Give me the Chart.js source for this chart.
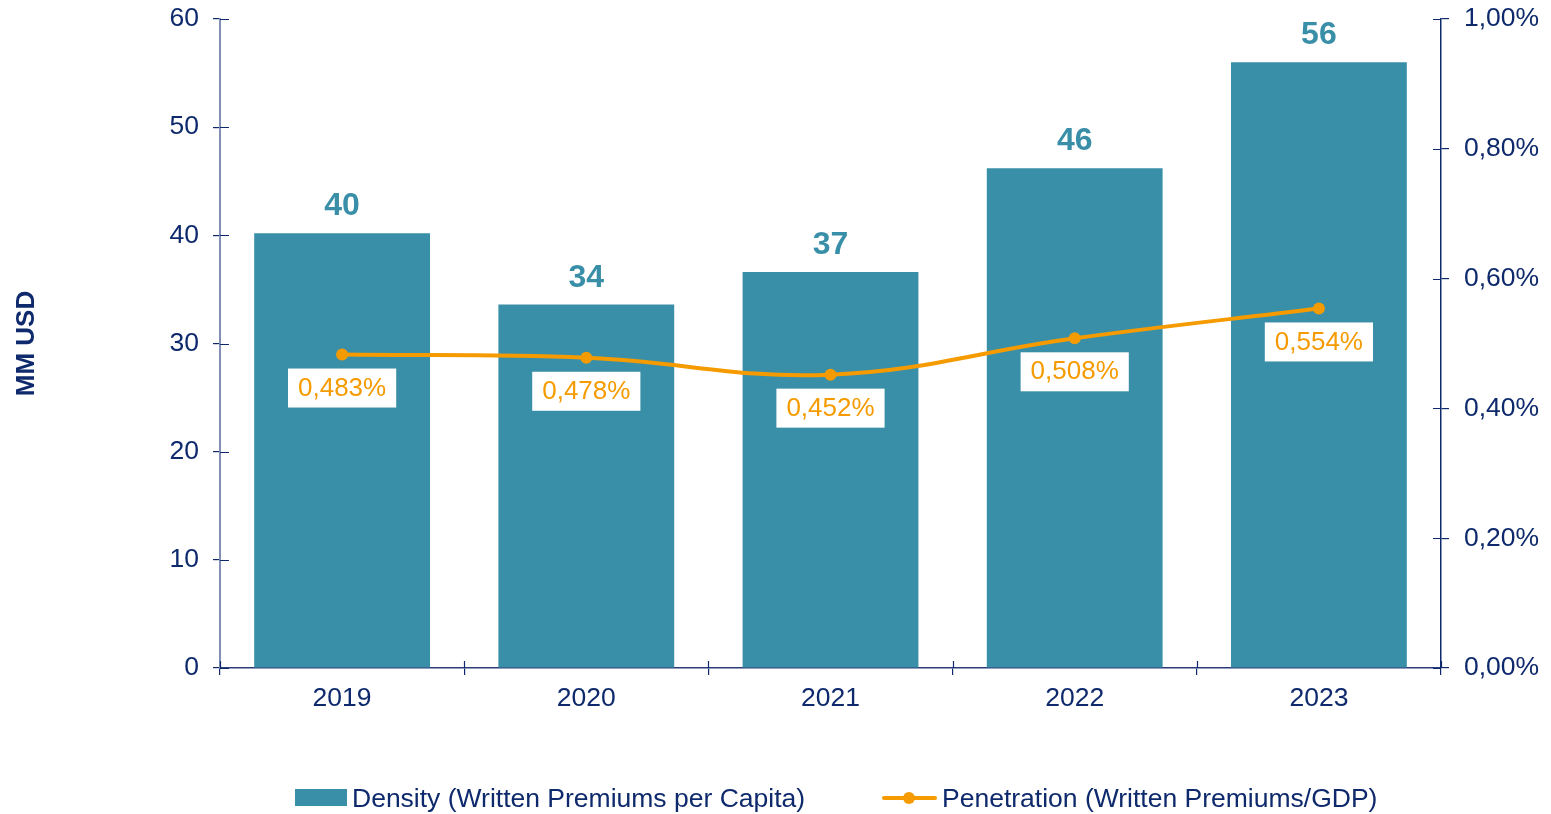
<!DOCTYPE html>
<html>
<head>
<meta charset="utf-8">
<script src="https://cdn.jsdelivr.net/npm/chart.js@4/dist/chart.umd.min.js"></script>
<style>
  body { margin: 0; background: #fff; }
  #wrap { position: relative; width: 1551px; height: 814px; font-family: "Liberation Sans", Arial, sans-serif; }
  #legend { position: absolute; left: 0; top: 780px; width: 1551px; height: 36px; color: #0e2a6c; font-size: 26.5px; }
  .item { position: absolute; top: 0; height: 36px; line-height: 36px; white-space: nowrap; }
  .box { position: absolute; }
</style>
</head>
<body>
<div id="wrap">
  <canvas id="grafico" width="1551" height="814"></canvas>
  <div id="legend">
    <div class="box" style="left:295px;top:9px;width:52px;height:17px;background:#3a8fa8"></div>
    <div class="item" style="left:352px">Density (Written Premiums per Capita)</div>
    <div class="box" style="left:882px;top:16px;width:55px;height:4px;background:#f59b00;border-radius:2px"></div>
    <div class="box" style="left:903px;top:12px;width:12px;height:12px;background:#f59b00;border-radius:50%"></div>
    <div class="item" style="left:942px">Penetration (Written Premiums/GDP)</div>
  </div>
</div>
<script>
const anos = ["2019", "2020", "2021", "2022", "2023"];
const densidade = [40.2, 33.6, 36.6, 46.2, 56.0];
const penetracao = [0.483, 0.478, 0.452, 0.508, 0.554];

const AZUL = "#3a8fa8";
const LARANJA = "#f59b00";
const MARINHO = "#0e2a6c";
const FONTE = "'Liberation Sans', Arial, sans-serif";

// ticks que cruzam o eixo (parte de dentro da área do gráfico)
const ticksInternos = {
  id: "ticksInternos",
  afterDraw(chart) {
    const ctx = chart.ctx;
    const { x, y, y1 } = chart.scales;
    ctx.save();
    ctx.strokeStyle = MARINHO;
    ctx.lineWidth = 1.2;
    ctx.beginPath();
    y.ticks.forEach((t, i) => {
      const py = Math.round(y.getPixelForTick(i)) + 0.5;
      ctx.moveTo(y.right, py); ctx.lineTo(y.right + 9, py);
    });
    y1.ticks.forEach((t, i) => {
      const py = Math.round(y1.getPixelForTick(i)) + 0.5;
      ctx.moveTo(y1.left - 8, py); ctx.lineTo(y1.left, py);
    });
    const n = x.ticks.length;
    for (let i = 0; i <= n; i++) {
      const px = Math.round(x.left + i * (x.width / n)) + 0.5;
      ctx.moveTo(px, x.top - 7); ctx.lineTo(px, x.top);
    }
    ctx.stroke();
    ctx.restore();
  }
};

// rótulos de valor das barras e da linha
const rotulos = {
  id: "rotulos",
  afterDatasetsDraw(chart) {
    const ctx = chart.ctx;
    ctx.save();
    ctx.textAlign = "center";

    ctx.font = "bold 32px " + FONTE;
    ctx.fillStyle = AZUL;
    ctx.textBaseline = "alphabetic";
    chart.getDatasetMeta(0).data.forEach((bar, i) => {
      ctx.fillText(Math.round(densidade[i]).toString(), bar.x, bar.y - 18);
    });

    ctx.font = "26px " + FONTE;
    ctx.textBaseline = "middle";
    chart.getDatasetMeta(1).data.forEach((pt, i) => {
      const txt = penetracao[i].toFixed(3).replace(".", ",") + "%";
      const w = ctx.measureText(txt).width + 20;
      const cy = pt.y + 33;
      ctx.fillStyle = "#fff";
      ctx.fillRect(pt.x - w / 2, cy - 19, w, 39);
      ctx.fillStyle = LARANJA;
      ctx.fillText(txt, pt.x, cy + 1);
    });
    ctx.restore();
  }
};

function semPadding(s) {
  s.paddingTop = 0;
  s.paddingBottom = 0;
}

const ctx = document.getElementById("grafico").getContext("2d");
new Chart(ctx, {
  type: "bar",
  data: {
    labels: anos,
    datasets: [
      {
        type: "bar",
        label: "Density (Written Premiums per Capita)",
        data: densidade,
        backgroundColor: AZUL,
        barPercentage: 0.72,
        categoryPercentage: 1,
        yAxisID: "y",
        order: 1
      },
      {
        type: "line",
        label: "Penetration (Written Premiums/GDP)",
        data: penetracao,
        borderColor: LARANJA,
        backgroundColor: LARANJA,
        borderWidth: 4,
        pointRadius: 6,
        pointBackgroundColor: LARANJA,
        pointBorderWidth: 0,
        tension: 0.4,
        yAxisID: "y1",
        order: 0
      }
    ]
  },
  options: {
    responsive: false,
    devicePixelRatio: 1,
    animation: false,
    layout: { padding: { top: 19, left: 0, right: 0, bottom: 0 } },
    plugins: {
      legend: { display: false },
      tooltip: { enabled: false }
    },
    scales: {
      x: {
        grid: { drawOnChartArea: false, tickLength: 7, color: MARINHO, lineWidth: 1.2 },
        border: { color: "#2a3c7a", width: 1.5 },
        ticks: { color: MARINHO, font: { family: FONTE, size: 26.5 }, padding: 8 },
        afterFit(s) { s.height = 814 - 668; s.paddingLeft = 0; s.paddingRight = 0; }
      },
      y: {
        position: "left",
        min: 0, max: 60,
        ticks: { stepSize: 10, color: MARINHO, font: { family: FONTE, size: 26.5 }, padding: 14 },
        grid: { drawOnChartArea: false, tickLength: 7, color: MARINHO, lineWidth: 1.2 },
        border: { color: "#8290b5", width: 2 },
        title: {
          display: true,
          text: "MM USD",
          color: MARINHO,
          font: { family: FONTE, size: 26, weight: "bold" },
          padding: { top: 11, bottom: 0 }
        },
        afterFit(s) { s.width = 220; semPadding(s); }
      },
      y1: {
        position: "right",
        min: 0, max: 1,
        ticks: {
          stepSize: 0.2,
          color: MARINHO,
          font: { family: FONTE, size: 26.5 },
          padding: 15,
          callback: v => v.toFixed(2).replace(".", ",") + "%"
        },
        grid: { drawOnChartArea: false, tickLength: 8, color: MARINHO, lineWidth: 1.2 },
        border: { color: MARINHO, width: 1.5 },
        afterFit(s) { s.width = 1551 - 1441; semPadding(s); }
      }
    }
  },
  plugins: [ticksInternos, rotulos]
});
</script>
</body>
</html>
